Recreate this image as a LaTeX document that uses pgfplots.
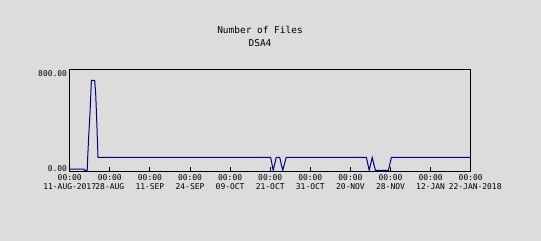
\documentclass[border=0pt]{standalone}
\usepackage{pgfplots}
\pgfplotsset{compat=1.18}
\usepackage{fontspec}
\setmainfont{DejaVu Sans Mono}
\setmonofont{DejaVu Sans Mono}
\definecolor{bgray}{RGB}{220,220,220}
\definecolor{navyline}{RGB}{0,0,128}
\begin{document}
\begin{tikzpicture}
\fill[bgray] (0,0) rectangle (541bp,241bp);
\useasboundingbox (0,0) rectangle (541bp,241bp);
\begin{axis}[
  scale only axis,
  width=401bp, height=102bp,
  anchor=south west, at={(69.7bp,69.7bp)},
  xmin=0, xmax=10, ymin=-8, ymax=848,
  axis line style={black, line width=1bp},
  xtick={0,1,2,3,4,5,6,7,8,9,10},
  xticklabels={{00:00\\11-AUG-2017},{00:00\\28-AUG},{00:00\\11-SEP},{00:00\\24-SEP},{00:00\\09-OCT},{00:00\\21-OCT},{00:00\\31-OCT},{00:00\\20-NOV},{00:00\\28-NOV},{00:00\\12-JAN},{00:00\\\hspace*{9bp}22-JAN-2018}},
  xticklabel style={align=center, font=\fontsize{8}{9}\selectfont, inner sep=2bp, yshift=-1bp},
  ytick={0,800},
  yticklabels={0.00,800.00},
  yticklabel style={font=\fontsize{8}{9}\selectfont, inner sep=2.5bp, yshift=1.5bp},
  ytick style={draw=none},
  xtick style={black, line width=1bp},
  major tick length=4bp,
  tick align=inside,
  xtick pos=bottom,
]
\addplot[navyline, line width=1bp, sharp plot] coordinates {
  (0,11) (0.349,11) (0.374,0) (0.436,0) (0.449,108) (0.474,288)
  (0.506,478) (0.541,755) (0.623,755) (0.648,646) (0.673,428) (0.706,108)
  (5.012,108) (5.075,0) (5.150,108) (5.237,108) (5.312,0) (5.399,108)
  (7.399,108) (7.469,0) (7.544,108) (7.623,0) (7.948,0) (8.022,108)
  (10,108)
};
\end{axis}
\node[font=\fontsize{9.5}{11}\selectfont] at (260bp,210.7bp) {Number of Files};
\node[font=\fontsize{9.5}{11}\selectfont] at (260bp,197.7bp) {DSA4};
\end{tikzpicture}
\end{document}
